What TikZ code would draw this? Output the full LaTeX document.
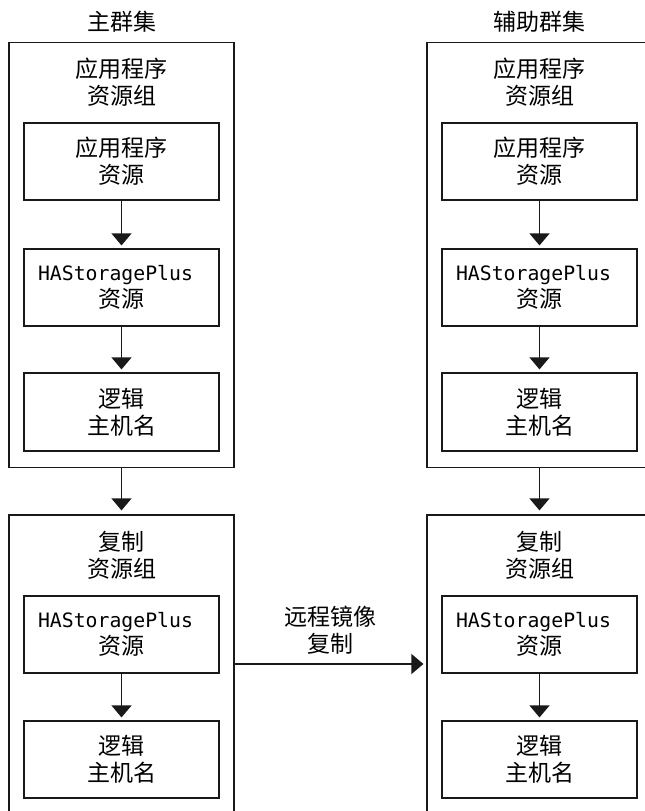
\documentclass[tikz,border=0pt]{standalone}
\usepackage{fontspec}
\newfontfamily\cjk{Noto Sans CJK SC}
\newfontfamily\monof{DejaVu Sans Mono}
\usetikzlibrary{arrows.meta}
\tikzset{
  ln/.style={line width=1.2pt, draw=black!90},
  outerbox/.style={ln, rectangle, minimum width=225pt, inner sep=0pt},
  innerbox/.style={ln, rectangle, minimum width=195pt, minimum height=77pt, inner sep=0pt, align=center, font=\cjk\fontsize{23}{27}\selectfont},
  lbl/.style={align=center, inner sep=0pt, font=\cjk\fontsize{23}{27}\selectfont},
  arr/.style={ln, -{Triangle[length=12pt,width=20pt]}, shorten >=3pt},
}
\newcommand{\hsp}{{\monof\fontsize{19.8}{27}\selectfont HAStoragePlus\hspace*{12pt}}}
\begin{document}
\begin{tikzpicture}[x=1pt,y=-1pt]
\useasboundingbox (0,0) rectangle (645,811);
\clip (0,0) rectangle (645,811);
% titles
\node[lbl] (tl) at (121.5,22) {主群集};
\node[lbl] (tr) at (539.5,22) {辅助群集};
% left column
\node[outerbox, minimum height=424.5pt] (lout1) at (121.5,255) {};
\node[lbl] (lg1) at (121.5,82) {应用程序\\资源组};
\node[innerbox] (lapp) at (121.5,161.5) {应用程序\\资源};
\node[innerbox] (lhsp1) at (121.5,287.5) {\hsp\\资源};
\node[innerbox, minimum height=78pt] (llog1) at (121.5,412) {逻辑\\主机名};
\node[outerbox, minimum height=320pt] (lout2) at (121.5,675) {};
\node[lbl] (lg2) at (121.5,555) {复制\\资源组};
\node[innerbox] (lhsp2) at (121.5,634.5) {\hsp\\资源};
\node[innerbox] (llog2) at (121.5,759.5) {逻辑\\主机名};
% right column
\node[outerbox, minimum height=424.5pt] (rout1) at (539.5,255) {};
\node[lbl] (rg1) at (539.5,82) {应用程序\\资源组};
\node[innerbox] (rapp) at (539.5,161.5) {应用程序\\资源};
\node[innerbox] (rhsp1) at (539.5,287.5) {\hsp\\资源};
\node[innerbox, minimum height=78pt] (rlog1) at (539.5,412) {逻辑\\主机名};
\node[outerbox, minimum height=320pt] (rout2) at (539.5,675) {};
\node[lbl] (rg2) at (539.5,555) {复制\\资源组};
\node[innerbox] (rhsp2) at (539.5,634.5) {\hsp\\资源};
\node[innerbox] (rlog2) at (539.5,759.5) {逻辑\\主机名};
% arrows
\draw[arr] (lapp.south) -- (lhsp1.north);
\draw[arr] (lhsp1.south) -- (llog1.north);
\draw[arr, shorten >=4pt] (lout1.south) -- (lout2.north);
\draw[arr] (lhsp2.south) -- (llog2.north);
\draw[arr] (rapp.south) -- (rhsp1.north);
\draw[arr] (rhsp1.south) -- (rlog1.north);
\draw[arr, shorten >=4pt] (rout1.south) -- (rout2.north);
\draw[arr] (rhsp2.south) -- (rlog2.north);
\draw[arr] (lout2.east |- 0,664) -- (rout2.west |- 0,664);
\node[lbl] (rep) at (330,630.5) {远程镜像\\复制};
\end{tikzpicture}
\end{document}
